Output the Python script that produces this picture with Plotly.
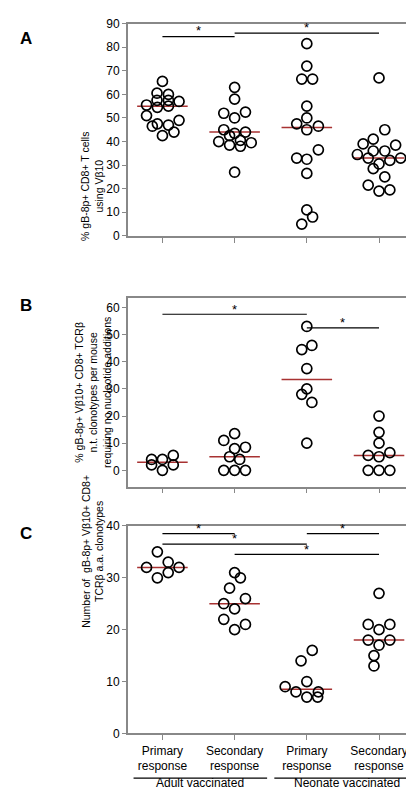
import plotly.graph_objects as go

# Panel A
a_y = [[65.5,60.5,60,57.5,57.5,57,55.5,54.5,55,51,49,46.5,47.5,47,44,42.5],
       [63,58,52,52.5,50,45,42.5,43.5,44,40,40.5,38.5,38,39.5,27],
       [81.5,72,66.5,66.5,55,50,47.5,46.5,45,36.5,33,32.5,26.5,11,8,5],
       [67,45,39,41,38.5,34.5,36,36,33,33,32,30.5,28.5,25,21.5,19,19.5]]
a_dx = [[0,-.075,.083,-.075,.083,.23,-.22,-.07,.083,-.22,.23,-.14,-.07,.083,.16,0],
        [0,0,-.15,.15,0,-.15,-.07,0,.15,-.22,.08,-.07,.08,.23,0],
        [0,0,-.07,.08,0,0,-.14,.16,0,.16,-.14,0,0,0,.08,-.07],
        [0,.08,-.22,-.08,.23,-.3,-.08,.08,-.15,.3,.15,0,-.08,.08,-.15,0,.15]]
a_med = [55,44,46,33]
# Panel B
b_y = [[4,4,5.5,2,2,0],[13.5,11,8.5,8,5,4,0,0,0],[53,46,44.5,37.5,30,28,25,10],[20,14,10,5.5,6.5,5,0,0,0]]
b_dx = [[-.15,0,.15,-.15,.15,0],[0,-.15,.15,0,-.07,.07,-.15,0,.15],[0,.07,-.07,0,0,-.07,.07,0],[0,0,0,-.15,.15,0,-.15,0,.15]]
b_med = [3,5,33.5,5.5]
# Panel C
c_y = [[35,33,32,32,30,31],[31,30,28,26,25,24,22,21,20],[16,14,10,9,8,8,7,7],[27,21,21,20,18,18,17,15,13]]
c_dx = [[-.07,.08,-.22,.23,-.07,.08],[0,.08,-.07,.15,-.15,0,-.15,.15,0],[.075,-.08,0,-.3,-.15,.16,0,.15],[0,-.15,.15,0,-.15,.15,0,-.07,-.07]]
c_med = [32,25,8.5,18]

cats = ["Primary<br>response","Secondary<br>response","Primary<br>response","Secondary<br>response"]
groups = ["Adult vaccinated","Neonate vaccinated"]

fig = go.Figure()
panels = [(a_y,a_dx,a_med,"y"),(b_y,b_dx,b_med,"y2"),(c_y,c_dx,c_med,"y3")]
for ys,dxs,meds,ya in panels:
    xa = "x" if ya=="y" else "x"+ya[1:]
    for i in range(4):
        fig.add_trace(go.Scatter(x=[i+1-0.35,i+1+0.35], y=[meds[i]]*2, mode="lines", xaxis=xa, yaxis=ya,
            line=dict(color="#a83232", width=1.5), showlegend=False))
        fig.add_trace(go.Scatter(x=[i+1+d for d in dxs[i]], y=ys[i], mode="markers", xaxis=xa, yaxis=ya,
            marker=dict(symbol="circle-open", size=10, color="black", line=dict(width=1.7)), showlegend=False))

def sig(xa, ya, x0, x1, y, dy):
    fig.add_shape(type="line", xref=xa, yref=ya, x0=x0, x1=x1, y0=y, y1=y, line=dict(color="black", width=1.2))
    fig.add_annotation(xref=xa, yref=ya, x=(x0+x1)/2, y=y+dy, text="*", showarrow=False, font=dict(size=13, color="black"))
sig("x","y",1,2,84.5,2.5); sig("x","y",2,4,86,2.5)
sig("x2","y2",1,3,57.5,1.8); sig("x2","y2",3,4,52.5,1.8)
sig("x3","y3",1,2,38.5,1); sig("x3","y3",1,3,36.5,1); sig("x3","y3",2,4,34.5,1); sig("x3","y3",3,4,38.5,1)

xcommon = dict(range=[0.52,4.57], tickvals=[1,2,3,4], ticks="outside", ticklen=5, tickcolor="#888",
               showline=True, linecolor="#888", linewidth=1.5, mirror=True, showgrid=False, zeroline=False, domain=[0.29,0.998])
ycommon = dict(ticks="outside", ticklen=4, tickcolor="#888", showline=True, linecolor="#888", linewidth=1.5, mirror=True,
               showgrid=False, zeroline=False, tickfont=dict(size=12, color="black"))
fig.update_layout(
    width=414, height=800, margin=dict(l=0,r=0,t=0,b=0), plot_bgcolor="white", paper_bgcolor="white",
    font=dict(family="Liberation Sans, Arial", color="black"),
    xaxis=dict(**xcommon, anchor="y", showticklabels=False),
    xaxis2=dict(**xcommon, anchor="y2", showticklabels=False),
    xaxis3=dict(**xcommon, anchor="y3", ticktext=cats, tickfont=dict(size=12, color="black")),
    yaxis=dict(**ycommon, range=[0,90], dtick=10, domain=[0.719,0.989], anchor="x"),
    yaxis2=dict(**ycommon, range=[-6,63.5], tickvals=[0,10,20,30,40,50,60], domain=[0.40,0.64], anchor="x2"),
    yaxis3=dict(**ycommon, range=[0,40], dtick=10, domain=[0.086,0.35], anchor="x3"),
)
ytitles = [("% gB-8p+ CD8+ T cells<br>using Vβ10", 0.854), ("% gB-8p+ Vβ10+ CD8+ TCRβ<br>n.t. clonotypes per mouse<br>requiring no nucleotide additions", 0.52), ("Number of  gB-8p+ Vβ10+ CD8+<br>TCRβ a.a. clonotypes", 0.218)]
for t, yy in ytitles:
    fig.add_annotation(xref="paper", yref="paper", x=0.205, y=yy, text=t, textangle=-90, showarrow=False, font=dict(size=10.5), xanchor="center")
for lab, yy in [("A",0.985),("B",0.645),("C",0.355)]:
    fig.add_annotation(xref="paper", yref="paper", x=0.025, y=yy, text="<b>"+lab+"</b>", showarrow=False, font=dict(size=17), xanchor="left", yanchor="top")
for (x0,x1),g in zip([(0.6,2.45),(2.55,4.55)], groups):
    fig.add_shape(type="line", xref="x3", yref="paper", x0=x0, x1=x1, y0=0.029, y1=0.029, line=dict(color="black", width=1.2))
    fig.add_annotation(xref="x3", yref="paper", x=(x0+x1)/2, y=0.012, text=g, showarrow=False, font=dict(size=12))
fig.write_html("out.html")
